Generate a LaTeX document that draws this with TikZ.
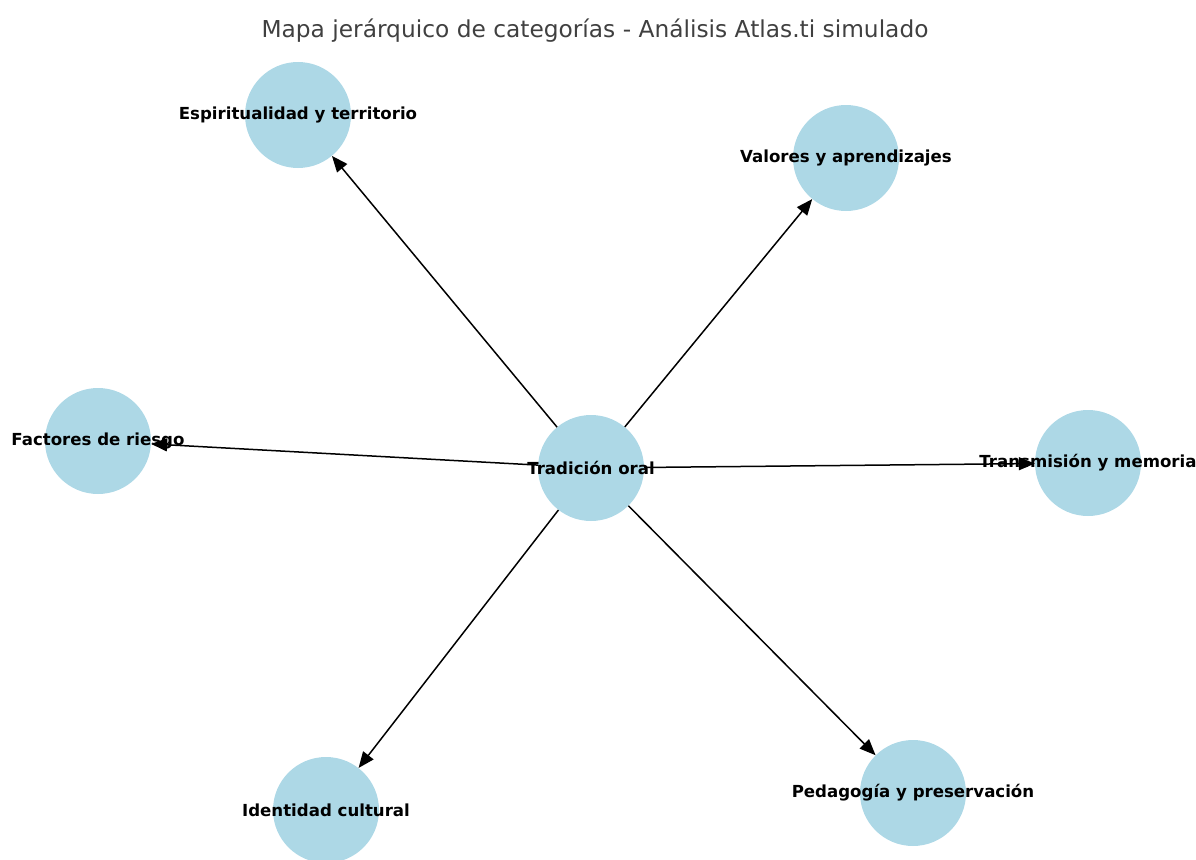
\documentclass[tikz,border=0pt]{standalone}
\usepackage{fontspec}
\setmainfont{DejaVu Sans}
\usetikzlibrary{arrows.meta}
\definecolor{nodeblue}{HTML}{ADD8E6}
\definecolor{titlegray}{HTML}{404040}
\tikzstyle{category} = [circle, fill=nodeblue, minimum size=106pt, inner sep=0pt]
\tikzstyle{catlabel} = [font=\fontsize{16.6}{20}\selectfont\bfseries, text=black, inner sep=0pt]
\tikzstyle{link} = [->, line width=1.5pt]

\begin{document}
\begin{tikzpicture}[x=1pt, y=-1pt, >={Triangle[length=16pt, width=13pt]}]
    \useasboundingbox (0,0) rectangle (1196,859);
    \clip (0,0) rectangle (1196,859);
    \node[font=\fontsize{23.3}{28}\selectfont, text=titlegray] (title) at (595,31) {Mapa jerárquico de categorías - Análisis Atlas.ti simulado};

    % circles
    \node[category] (oral) at (591,468) {};
    \node[category] (espiritualidad) at (298,115) {};
    \node[category] (valores) at (846,158) {};
    \node[category] (factores) at (98,441) {};
    \node[category] (transmision) at (1088,463) {};
    \node[category] (identidad) at (326,810) {};
    \node[category] (pedagogia) at (913,793) {};

    \draw[link] (oral) -- (espiritualidad);
    \draw[link] (oral) -- (valores);
    \draw[link] (oral) -- (factores);
    \draw[link] (oral) -- (transmision);
    \draw[link] (oral) -- (identidad);
    \draw[link] (oral) -- (pedagogia);

    % labels on top
    \node[catlabel] (oral-l) at (oral.center) {Tradición oral};
    \node[catlabel] (espiritualidad-l) at (espiritualidad.center) {Espiritualidad y territorio};
    \node[catlabel] (valores-l) at (valores.center) {Valores y aprendizajes};
    \node[catlabel] (factores-l) at (factores.center) {Factores de riesgo};
    \node[catlabel] (transmision-l) at (transmision.center) {Transmisión y memoria};
    \node[catlabel] (identidad-l) at (identidad.center) {Identidad cultural};
    \node[catlabel] (pedagogia-l) at (pedagogia.center) {Pedagogía y preservación};
\end{tikzpicture}
\end{document}
